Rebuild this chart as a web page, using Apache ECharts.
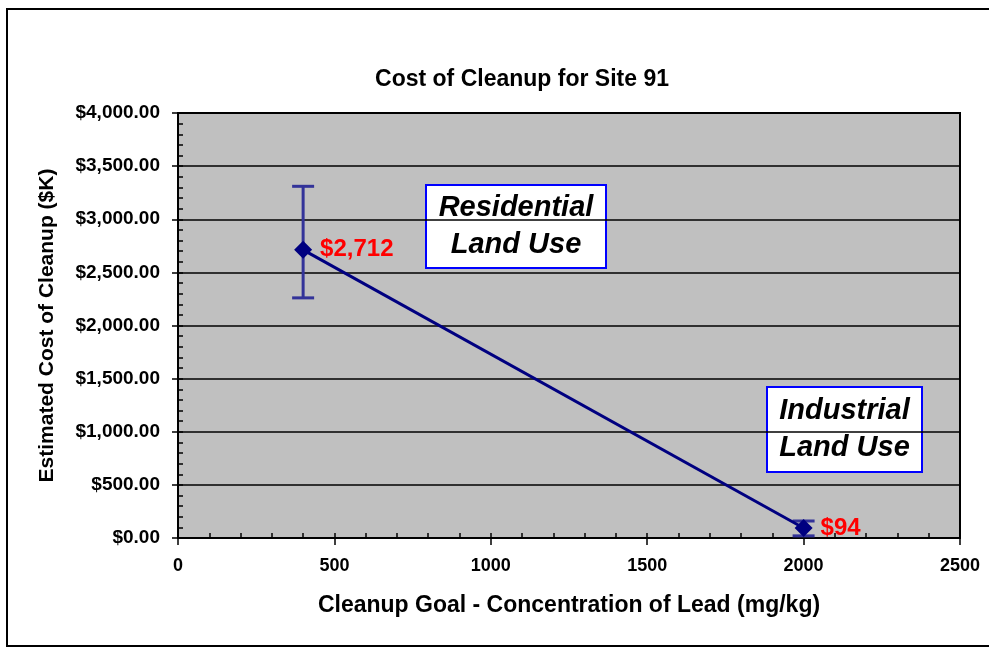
<!DOCTYPE html>
<html>
<head>
<meta charset="utf-8">
<script src="https://cdn.jsdelivr.net/npm/echarts@6/dist/echarts.min.js"></script>
<style>
  html, body { margin: 0; padding: 0; background: #fff; }
  #chart { width: 989px; height: 648px; }
</style>
</head>
<body>
<div id="chart"></div>
<script>
// data
const leadGoal = [400, 2000]
const cleanupCost = [2712, 94]
const costLow = [2260, 20]
const costHigh = [3310, 160]

const font = '"Liberation Sans", Arial, sans-serif'
const navy = '#000080'

const chart = echarts.init(document.getElementById('chart'), null, { renderer: 'canvas' })

const points = leadGoal.map((x, i) => [x, cleanupCost[i]])
const bars = leadGoal.map((x, i) => [x, costLow[i], costHigh[i]])

function money(v) {
  return '$' + v.toLocaleString('en-US', { minimumFractionDigits: 2, maximumFractionDigits: 2 })
}

const hiddenAxis = {
  axisLine: { show: false },
  axisLabel: { show: false },
  splitLine: { show: false },
  axisTick: { show: true, inside: true, length: 5, lineStyle: { color: '#000', width: 1.5 } },
}

// white box with blue frame + centred italic text
function noteBox(x, y, w, h, text) {
  return {
    type: 'group',
    z: 10,
    children: [
      {
        type: 'rect',
        shape: { x, y, width: w, height: h },
        style: { fill: '#fff', stroke: '#0000ff', lineWidth: 2 },
      },
      {
        type: 'text',
        x: x + w / 2,
        y: y + h / 2,
        style: {
          text, align: 'center', verticalAlign: 'middle',
          font: 'italic bold 29px ' + font, fill: '#000', lineHeight: 37,
        },
      },
    ],
  }
}

chart.setOption({
  animation: false,
  title: {
    text: 'Cost of Cleanup for Site 91',
    left: 517,
    textAlign: 'center',
    top: 63,
    textStyle: { fontFamily: font, fontSize: 23, fontWeight: 'bold', color: '#000' },
  },
  grid: {
    left: 178, right: 29, top: 113, bottom: 110,
    show: true, backgroundColor: '#c0c0c0', borderColor: '#000', borderWidth: 2,
  },
  xAxis: [
    {
      type: 'value', min: 0, max: 2500, interval: 500,
      name: 'Cleanup Goal - Concentration of Lead (mg/kg)',
      nameLocation: 'middle', nameGap: 56,
      nameTextStyle: { fontFamily: font, fontSize: 23, fontWeight: 'bold', color: '#000' },
      axisLine: { lineStyle: { color: '#000', width: 2 } },
      axisTick: { length: 7, lineStyle: { color: '#000', width: 1.5 } },
      axisLabel: {
        margin: 19, formatter: (v) => String(v),
        fontFamily: font, fontSize: 18, fontWeight: 'bold', color: '#000',
      },
      splitLine: { show: false },
    },
    Object.assign({ type: 'value', min: 0, max: 2500, interval: 100, position: 'bottom' }, hiddenAxis),
  ],
  yAxis: [
    {
      type: 'value', min: 0, max: 4000, interval: 500,
      name: 'Estimated Cost of Cleanup ($K)',
      nameLocation: 'middle', nameGap: 120,
      nameTextStyle: { fontFamily: font, fontSize: 21, fontWeight: 'bold', color: '#000' },
      axisLine: { show: true, lineStyle: { color: '#000', width: 2 } },
      axisTick: { show: true, length: 6, lineStyle: { color: '#000', width: 1.5 } },
      axisLabel: { margin: 18, formatter: money, fontFamily: font, fontSize: 19, fontWeight: 'bold', color: '#000' },
      splitLine: { show: true, lineStyle: { color: '#000', width: 1.5 } },
    },
    Object.assign({ type: 'value', min: 0, max: 4000, interval: 100, position: 'left' }, hiddenAxis),
  ],
  series: [
    {
      type: 'custom',
      z: 2,
      data: bars,
      renderItem(params, api) {
        const x = api.value(0)
        const lo = api.coord([x, api.value(1)])
        const hi = api.coord([x, api.value(2)])
        const w = 11
        const style = { stroke: '#333399', lineWidth: 3 }
        return {
          type: 'group',
          children: [
            { type: 'line', shape: { x1: lo[0], y1: lo[1], x2: hi[0], y2: hi[1] }, style },
            { type: 'line', shape: { x1: lo[0] - w, y1: lo[1], x2: lo[0] + w, y2: lo[1] }, style },
            { type: 'line', shape: { x1: hi[0] - w, y1: hi[1], x2: hi[0] + w, y2: hi[1] }, style },
          ],
        }
      },
    },
    {
      type: 'line',
      z: 3,
      data: points,
      symbol: 'diamond',
      symbolSize: 18,
      lineStyle: { color: navy, width: 3 },
      itemStyle: { color: navy },
      label: {
        show: true,
        position: 'right',
        distance: 8,
        formatter: (p) => '$' + p.value[1].toLocaleString('en-US'),
        fontFamily: font, fontSize: 24, fontWeight: 'bold', color: '#ff0000',
      },
    },
  ],
  graphic: [
    {
      type: 'rect',
      shape: { x: 7, y: 9, width: 1000, height: 637 },
      style: { fill: 'none', stroke: '#000', lineWidth: 2 },
      silent: true,
    },
    noteBox(426, 185, 180, 83, 'Residential\nLand Use'),
    noteBox(767, 387, 155, 85, 'Industrial\nLand Use'),
  ],
})
</script>
</body>
</html>
